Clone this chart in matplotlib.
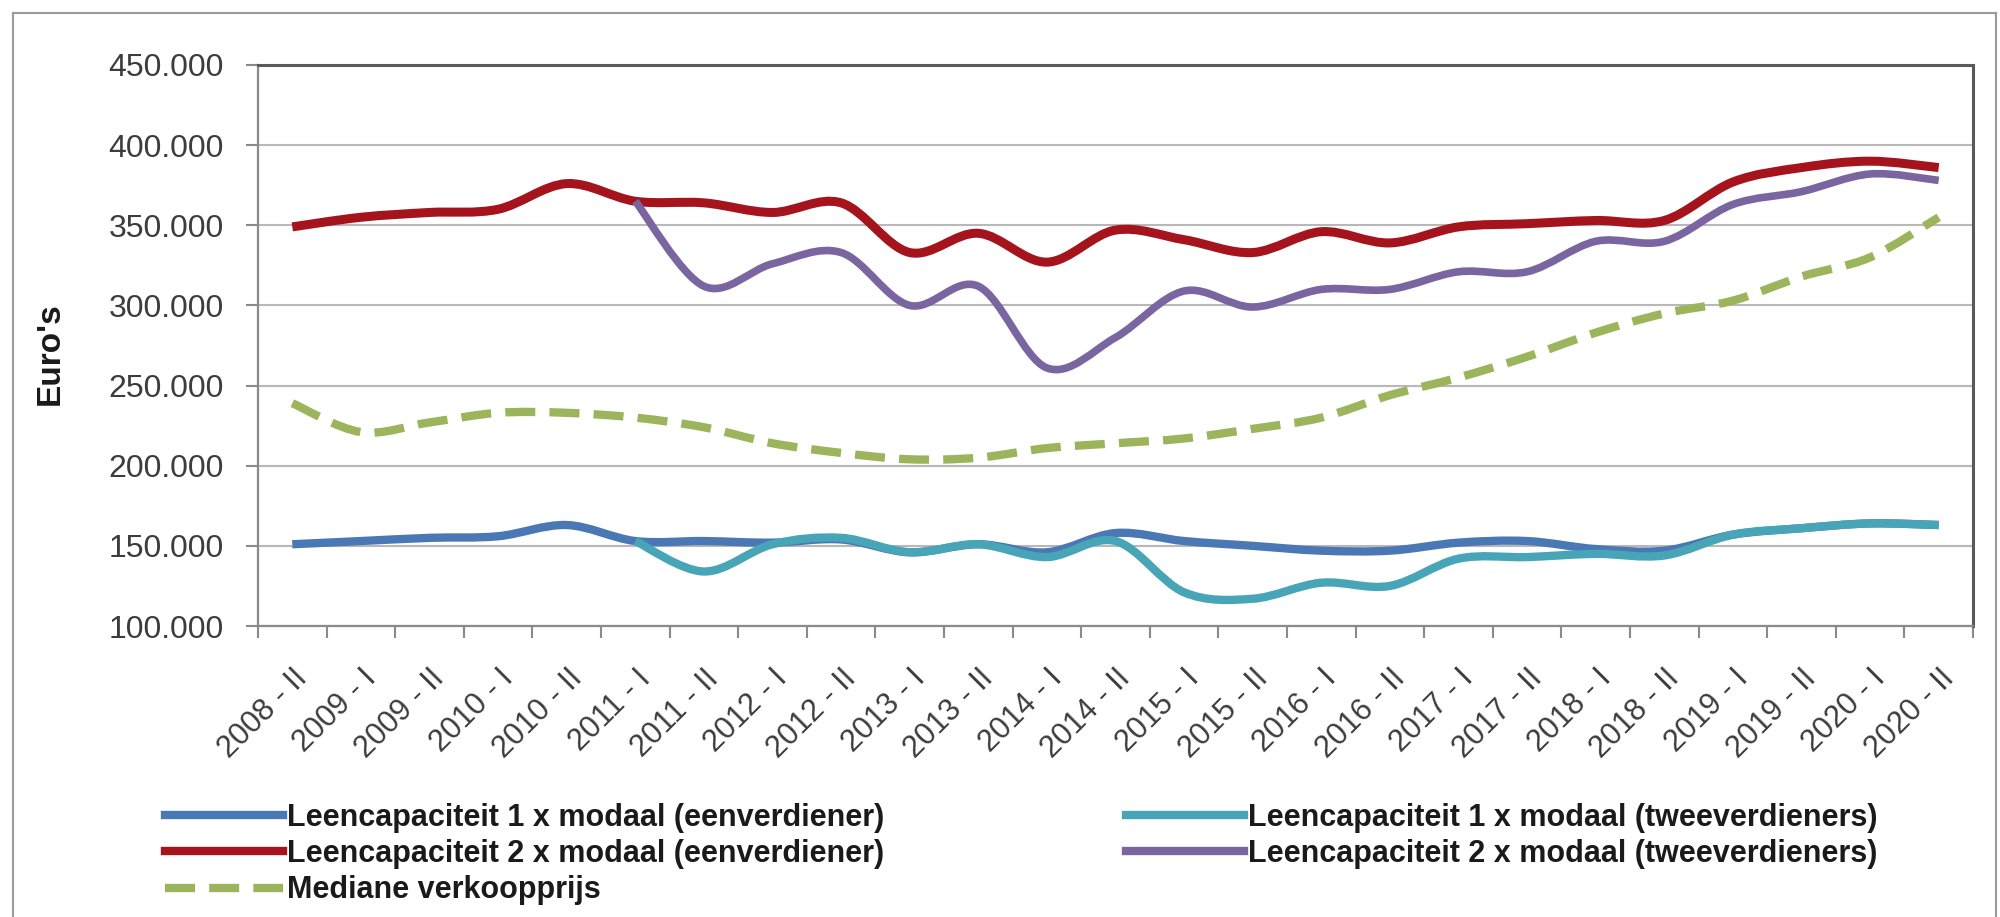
import numpy as np
import matplotlib
matplotlib.use('Agg')
import matplotlib.pyplot as plt
from matplotlib.path import Path
from matplotlib.patches import PathPatch
from matplotlib.lines import Line2D
from matplotlib.ticker import FuncFormatter

# ---------------- data ----------------
categories = ['2008 - II', '2009 - I', '2009 - II', '2010 - I', '2010 - II',
              '2011 - I', '2011 - II', '2012 - I', '2012 - II', '2013 - I',
              '2013 - II', '2014 - I', '2014 - II', '2015 - I', '2015 - II',
              '2016 - I', '2016 - II', '2017 - I', '2017 - II', '2018 - I',
              '2018 - II', '2019 - I', '2019 - II', '2020 - I', '2020 - II']

lc_1x_een = [151000, 153000, 155000, 156000, 163000, 153000, 153000, 152000, 154000, 146000,
             151000, 146000, 158000, 153000, 150000, 147000, 147000, 152000, 153000, 148000,
             147000, 157000, 161000, 164000, 163000]
lc_1x_twee = [None, None, None, None, None, 153000, 134000, 151000, 155000, 146000,
              151000, 143000, 153000, 121000, 117000, 127000, 125000, 142000, 143000, 145000,
              144000, 157000, 161000, 164000, 163000]
lc_2x_een = [349000, 355000, 358000, 360000, 376000, 365000, 364000, 358000, 364000, 333000,
             345000, 327000, 347000, 341000, 333000, 346000, 339000, 349000, 351000, 353000,
             353000, 377000, 386000, 390000, 386000]
lc_2x_twee = [None, None, None, None, None, 365000, 312000, 326000, 333000, 300000,
              312000, 261000, 280000, 309000, 299000, 310000, 310000, 321000, 321000, 340000,
              340000, 363000, 371000, 382000, 378000]
mediane = [239000, 221000, 227000, 233000, 233000, 230000, 224000, 214000, 208000, 204000,
           205000, 211000, 214000, 217000, 223000, 230000, 244000, 255000, 268000, 283000,
           295000, 303000, 318000, 330000, 355000]

series_labels = ['Leencapaciteit 1 x modaal (eenverdiener)',
                 'Leencapaciteit 1 x modaal (tweeverdieners)',
                 'Leencapaciteit 2 x modaal (eenverdiener)',
                 'Leencapaciteit 2 x modaal (tweeverdieners)',
                 'Mediane verkoopprijs']

# ---------------- style ----------------
plt.rcParams['font.family'] = ['Liberation Sans', 'DejaVu Sans']

W, H = 2000, 917
fig = plt.figure(figsize=(W / 100, H / 100), dpi=100)
fig.patch.set_facecolor('white')

left, right, top, bottom = 258, 1973, 65, 626
ax = fig.add_axes([left / W, 1 - bottom / H, (right - left) / W, (bottom - top) / H])


def smooth_path(values):
    """Excel-like smoothed line: cubic Bezier segments through the data points."""
    pts = [(i, v) for i, v in enumerate(values) if v is not None]
    pts = np.array(pts, dtype=float)
    n = len(pts)
    verts = [pts[0]]
    codes = [Path.MOVETO]
    for i in range(n - 1):
        p0 = pts[max(i - 1, 0)]
        p1 = pts[i]
        p2 = pts[i + 1]
        p3 = pts[min(i + 2, n - 1)]
        c1 = p1 + (p2 - p0) / 6.0
        c2 = p2 - (p3 - p1) / 6.0
        verts += [c1, c2, p2]
        codes += [Path.CURVE4] * 3
    return Path(verts, codes)


colors = {
    'blue': '#4A78B4',
    'teal': '#47A5B7',
    'red': '#A5131C',
    'purple': '#7A65A0',
    'green': '#9CB55C',
}

series = [
    (lc_1x_een, colors['blue'], 6.0, '-'),
    (lc_1x_twee, colors['teal'], 6.0, '-'),
    (lc_2x_een, colors['red'], 6.5, '-'),
    (lc_2x_twee, colors['purple'], 5.5, '-'),
    (mediane, colors['green'], 6.0, (0, (3.6, 1.7))),
]

for k, (vals, col, lw, ls) in enumerate(series):
    patch = PathPatch(smooth_path(vals), facecolor='none', edgecolor=col, lw=lw,
                      linestyle=ls, capstyle='butt', joinstyle='round', zorder=3 + k)
    ax.add_patch(patch)

ax.set_xlim(-0.5, len(categories) - 0.5)
ax.set_ylim(100000, 450000)

# y axis
ax.set_yticks(np.arange(100000, 450001, 50000))
ax.yaxis.set_major_formatter(FuncFormatter(lambda v, p: f"{int(round(v / 1000))}.000"))
ax.tick_params(axis='y', which='major', length=8.6, width=1.5, color='#8a8a8a',
               pad=16, labelsize=23, labelcolor='#3c3c3c')
ax.yaxis.grid(True, color='#b8b8b8', lw=1.5)
ax.set_axisbelow(True)

# x axis: labels at category centres, tick marks between categories
ax.set_xticks(np.arange(len(categories)))
ax.set_xticklabels(categories, rotation=45, ha='right', va='top', rotation_mode='anchor')
ax.tick_params(axis='x', which='major', length=0, pad=27, labelsize=22, labelcolor='#3c3c3c')
ax.set_xticks(np.arange(-0.5, len(categories), 1.0), minor=True)
ax.tick_params(axis='x', which='minor', length=8.6, width=1.5, color='#8a8a8a')

for s in ['top', 'right']:
    ax.spines[s].set_color('#5a5a5a')
    ax.spines[s].set_linewidth(2.2)
for s in ['left', 'bottom']:
    ax.spines[s].set_color('#8a8a8a')
    ax.spines[s].set_linewidth(1.6)

ax.set_ylabel("Euro's", fontsize=24, fontweight='bold', color='#1a1a1a', va='center')
ax.yaxis.set_label_coords((50 - left) / (right - left), (bottom - 354) / (bottom - top))

# outer frame (cut off at the bottom)
fx0, fx1, fy0 = 13 / W, 1996 / W, 1 - 13 / H
for xs, ys in [([fx0, fx0], [0, fy0]), ([fx0, fx1], [fy0, fy0]), ([fx1, fx1], [0, fy0])]:
    fig.add_artist(Line2D(xs, ys, transform=fig.transFigure, color='#9a9a9a', lw=1.5))

# legend
handle_defs = {
    0: Line2D([], [], color=colors['blue'], lw=6),
    1: Line2D([], [], color=colors['teal'], lw=6),
    2: Line2D([], [], color=colors['red'], lw=6),
    3: Line2D([], [], color=colors['purple'], lw=6),
    4: Line2D([], [], color=colors['green'], lw=6, linestyle=(0, (3.6, 1.7))),
}
order = [0, 2, 4, 1, 3]
leg = fig.legend([handle_defs[i] for i in order], [series_labels[i] for i in order],
                 loc='upper left', bbox_to_anchor=(165 / W, 1 - 803 / H), ncol=2,
                 frameon=False, prop=dict(weight='bold', size=22),
                 handlelength=3.85, handletextpad=0.15, columnspacing=7.9,
                 labelspacing=0.2, borderpad=0, borderaxespad=0)
for t in leg.get_texts():
    t.set_color('#1a1a1a')

fig.savefig('out.png', dpi=100, facecolor='white')
